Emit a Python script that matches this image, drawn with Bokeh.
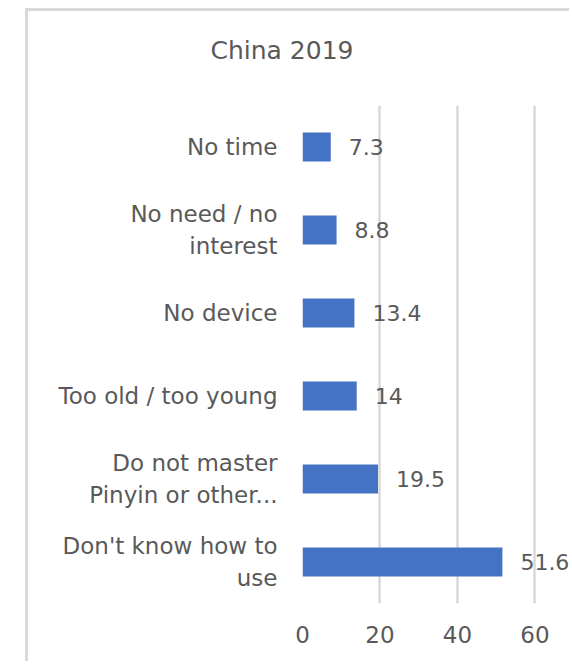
from bokeh.plotting import figure
from bokeh.models import ColumnDataSource, FactorRange, Range1d, FixedTicker, Title
from bokeh.embed import file_html
from bokeh.resources import INLINE
from bokeh.core.properties import value

categories = ["No time", "No need / no\ninterest", "No device", "Too old / too young",
              "Do not master\nPinyin or other...", "Don't know how to\nuse"]
values = [7.3, 8.8, 13.4, 14, 19.5, 51.6]
value_labels = ["7.3", "8.8", "13.4", "14", "19.5", "51.6"]
x_ticks = [0, 20, 40, 60]
title_text = "China 2019"

FONT = "DejaVu Sans"
GRAY = "#595959"

src = ColumnDataSource(dict(cat=categories, val=values, lab=value_labels))

p = figure(width=544, height=653, output_backend="svg", toolbar_location=None,
           y_range=FactorRange(*list(reversed(categories)), range_padding=0),
           x_range=Range1d(0, 69.7),
           min_border_left=274, min_border_right=0, min_border_top=94, min_border_bottom=61)
p.styles = {"margin-left": "25px", "margin-top": "8px",
            "border-left": "3px solid #d9d9d9", "border-top": "3px solid #d9d9d9"}

p.title.text = ""
p.title.standoff = 0
# spacer between frame and title (closest to the frame)
p.add_layout(Title(text=" ", text_font=FONT, text_font_size="25px", standoff=10), "above")
p.add_layout(Title(text=title_text, text_font=FONT, text_font_size="25px", text_color=GRAY,
                   text_font_style="normal", align="left", offset=-92, standoff=0), "above")

p.outline_line_color = None
p.background_fill_color = "white"
p.border_fill_color = "white"

p.hbar(y="cat", right="val", height=0.35, source=src, fill_color="#4472C4", line_color=None)
p.text(x="val", y="cat", text="lab", source=src, x_offset=18, text_align="left",
       text_baseline="middle", text_font=value(FONT), text_font_size="22px", text_color=GRAY)

p.xaxis.ticker = FixedTicker(ticks=x_ticks)
p.xgrid.ticker = FixedTicker(ticks=x_ticks)
p.xgrid.grid_line_color = "#d9d9d9"
p.xgrid.grid_line_width = 2.5
p.ygrid.grid_line_color = None

for ax in (p.xaxis, p.yaxis):
    ax.axis_line_color = None
    ax.major_tick_line_color = None
    ax.minor_tick_line_color = None
    ax.major_label_text_font = FONT
    ax.major_label_text_font_size = "23px"
    ax.major_label_text_color = GRAY
p.xaxis.major_label_standoff = 16
p.yaxis.major_label_standoff = 19

open("out.html", "w").write(file_html(p, INLINE))
